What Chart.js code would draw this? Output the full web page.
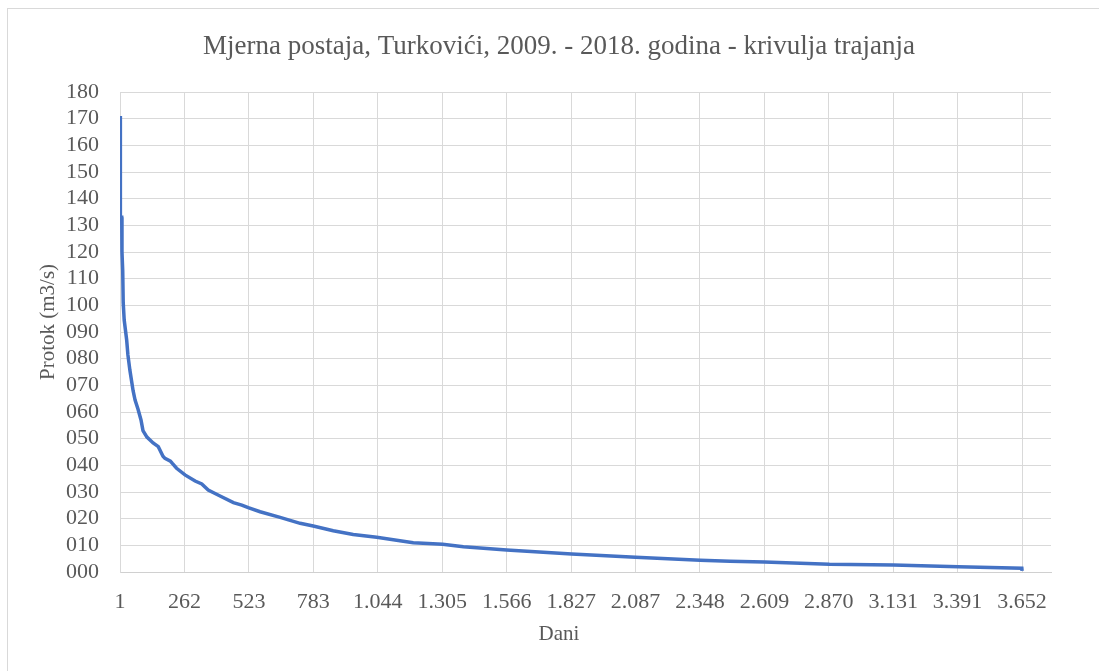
<!DOCTYPE html>
<html>
<head>
<meta charset="utf-8">
<script src="https://cdn.jsdelivr.net/npm/chart.js@4.4.1/dist/chart.umd.min.js"></script>
<style>
  html, body { margin: 0; padding: 0; background: #ffffff; }
  #wrap { width: 1099px; height: 671px; }
</style>
</head>
<body>
<div id="wrap"><canvas id="c" width="1099" height="671"></canvas></div>
<script>
// Flow duration curve, Turkovići gauging station 2009-2018
const chartTitle = 'Mjerna postaja, Turkovići, 2009. - 2018. godina - krivulja trajanja';
const yTitle = 'Protok (m3/s)';
const xTitle = 'Dani';

// day rank (1 = highest flow) and flow in m3/s
const days = [1, 2, 3, 8, 9, 12, 14, 18, 28, 33, 41, 54, 62, 74, 86, 94, 110, 135, 156, 175, 183, 205, 212, 230, 264, 305, 332, 358, 406, 460, 494, 520, 568, 649, 730, 783, 864, 945, 1040, 1134, 1188, 1307, 1391, 1566, 1829, 2088, 2349, 2470, 2609, 2872, 3131, 3394, 3651, 3652];
const flow = [171, 134, 133, 133, 120, 113, 101, 94.5, 87, 81.4, 75.7, 68, 64.5, 61, 57, 53, 50.6, 48.4, 47, 43.4, 42.6, 41.6, 40.8, 38.9, 36.4, 34.1, 33, 30.75, 28.5, 26, 25.1, 24.1, 22.6, 20.5, 18.25, 17.25, 15.5, 14.1, 13, 11.75, 11, 10.4, 9.5, 8.25, 6.75, 5.5, 4.4, 4.0, 3.75, 2.9, 2.6, 2.0, 1.4, 0.4];

// category-style ticks on the day axis
const xTickDays = [1, 262, 523, 783, 1044, 1305, 1566, 1827, 2087, 2348, 2609, 2870, 3131, 3391, 3652];
const xTickLabels = ['1', '262', '523', '783', '1.044', '1.305', '1.566', '1.827', '2.087', '2.348', '2.609', '2.870', '3.131', '3.391', '3.652'];
const xMax = 3769;

const FONT = '"Liberation Serif", "Times New Roman", serif';
const TEXT = '#595959';
const GRID = '#d9d9d9';

const frame = {
  id: 'frame',
  beforeDraw(chart) {
    const ctx = chart.ctx;
    ctx.save();
    ctx.fillStyle = '#ffffff';
    ctx.fillRect(0, 0, chart.width, chart.height);
    ctx.restore();
  },
  afterDraw(chart) {
    const ctx = chart.ctx;
    ctx.save();
    // outer chart border
    ctx.strokeStyle = '#d9d9d9';
    ctx.lineWidth = 1;
    ctx.strokeRect(7.5, 8.5, 1200, 1200);
    ctx.fillStyle = TEXT;
    ctx.textAlign = 'center';
    ctx.textBaseline = 'middle';
    ctx.font = '27px ' + FONT;
    ctx.fillText(chartTitle, 559, 47);
    ctx.font = '21px ' + FONT;
    ctx.fillText(xTitle, 559, 634);
    ctx.translate(48, 322);
    ctx.rotate(-Math.PI / 2);
    ctx.fillText(yTitle, 0, 0);
    ctx.restore();
  }
};

new Chart(document.getElementById('c'), {
  type: 'line',
  data: {
    datasets: [{
      data: days.map((d, i) => ({ x: d, y: flow[i] })),
      borderColor: '#4472C4',
      borderWidth: 3.5,
      pointRadius: 0,
      tension: 0,
      fill: false
    }]
  },
  options: {
    responsive: false,
    devicePixelRatio: 1,
    animation: false,
    layout: { padding: { top: 92, right: 48, bottom: 0, left: 0 } },
    plugins: { legend: { display: false }, tooltip: { enabled: false }, title: { display: false } },
    scales: {
      x: {
        type: 'linear',
        min: 1,
        max: xMax,
        afterFit(s) { s.height = 99; },
        afterBuildTicks(s) { s.ticks = xTickDays.map(v => ({ value: v })); },
        ticks: {
          autoSkip: false,
          maxRotation: 0,
          padding: 17,
          color: TEXT,
          font: { family: FONT, size: 22 },
          callback: (v, i) => xTickLabels[i]
        },
        grid: { color: GRID, lineWidth: 1, drawTicks: false },
        border: { display: true, color: '#d0d0d0', width: 1 }
      },
      y: {
        min: 0,
        max: 180,
        afterFit(s) { s.width = 120; },
        ticks: {
          autoSkip: false,
          stepSize: 10,
          padding: 21,
          color: TEXT,
          font: { family: FONT, size: 22 },
          callback: v => String(v).padStart(3, '0')
        },
        grid: { color: GRID, lineWidth: 1, drawTicks: false },
        border: { display: true, color: GRID, width: 1 }
      }
    }
  },
  plugins: [frame]
});
</script>
</body>
</html>
